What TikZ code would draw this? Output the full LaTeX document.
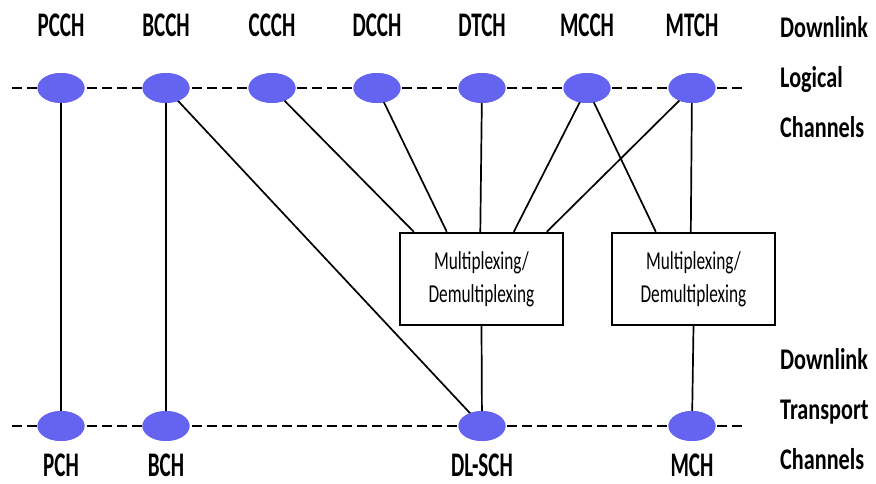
\documentclass[tikz,border=0pt]{standalone}
\usepackage{fontspec}
\setmainfont{Carlito}[FakeStretch=0.67]
\newfontfamily\chanfont{Carlito}[FakeStretch=0.61]
\newfontfamily\sidefont{Carlito}[FakeStretch=0.74]
\usetikzlibrary{shapes.geometric,calc}

\definecolor{chanblue}{RGB}{100,100,240}

\tikzset{
  chan/.style={ellipse, fill=chanblue, draw=none, minimum width=47pt, minimum height=30pt, inner sep=0pt},
  chanlabel/.style={anchor=base, font=\chanfont\fontsize{34.5}{35}\selectfont\bfseries, inner sep=0pt},
  sidelabel/.style={anchor=base west, font=\sidefont\fontsize{30}{31}\selectfont\bfseries, inner sep=0pt},
  muxbox/.style={draw, line width=2.4pt, minimum width=163pt, minimum height=92pt, inner sep=0pt,
                 align=center, font=\fontsize{25.8}{33}\selectfont},
  busline/.style={line width=2.6pt, dash pattern=on 10pt off 5pt},
  link/.style={line width=1.7pt},
}

\begin{document}
\begin{tikzpicture}[x=1pt,y=-1pt]
\useasboundingbox (0,0) rectangle (876,484);

% channel buses
\coordinate (lbusL) at (12,88);
\coordinate (lbusR) at (742,88);
\coordinate (tbusL) at (12,426);
\coordinate (tbusR) at (743,426);
\draw[busline] (lbusL) -- (lbusR);
\draw[busline] (tbusL) -- (tbusR);

% logical channels
\node[chan] (pcch) at (61,88) {};
\node[chan] (bcch) at (166,88) {};
\node[chan] (ccch) at (272,88) {};
\node[chan] (dcch) at (377,88) {};
\node[chan] (dtch) at (482,88) {};
\node[chan] (mcch) at (587,88) {};
\node[chan] (mtch) at (692,88) {};

\node[chanlabel] (pcchT) at (61,37) {PCCH};
\node[chanlabel] (bcchT) at (166,37) {BCCH};
\node[chanlabel] (ccchT) at (272,37) {CCCH};
\node[chanlabel] (dcchT) at (377,37) {DCCH};
\node[chanlabel] (dtchT) at (482,37) {DTCH};
\node[chanlabel] (mcchT) at (587,37) {MCCH};
\node[chanlabel] (mtchT) at (692,37) {MTCH};

% transport channels
\node[chan] (pch) at (61,426) {};
\node[chan] (bch) at (166,426) {};
\node[chan] (dlsch) at (482,426) {};
\node[chan] (mch) at (692,426) {};

\node[chanlabel] (pchT) at (61,476) {PCH};
\node[chanlabel] (bchT) at (166,476) {BCH};
\node[chanlabel] (dlschT) at (482,476) {DL-SCH};
\node[chanlabel] (mchT) at (692,476) {MCH};

% side captions
\node[sidelabel] (dl1) at (780,38) {Downlink};
\node[sidelabel] (lg) at (780,88) {Logical};
\node[sidelabel] (ch1) at (780,138) {Channels};
\node[sidelabel] (dl2) at (780,369) {Downlink};
\node[sidelabel] (tr) at (780,419) {Transport};
\node[sidelabel] (ch2) at (780,469) {Channels};

% multiplexing boxes
\node[muxbox] (mux1) at (481.5,279) {Multiplexing/\\Demultiplexing};
\node[muxbox] (mux2) at (693.5,279) {Multiplexing/\\Demultiplexing};

% entry points on the boxes
\coordinate (m1a) at ($(mux1.north west)+(15,0)$);
\coordinate (m1b) at ($(mux1.north west)+(48,0)$);
\coordinate (m1c) at ($(mux1.north west)+(81.5,0)$);
\coordinate (m1d) at ($(mux1.north west)+(115,0)$);
\coordinate (m1e) at ($(mux1.north west)+(148,0)$);
\coordinate (m2a) at ($(mux2.north west)+(45,0)$);
\coordinate (m2b) at ($(mux2.north west)+(80,0)$);

% direct mappings
\draw[link] (pcch.center) -- (pch.center);
\draw[link] (bcch.center) -- (bch.center);
\draw[link] (bcch.center) -- (dlsch.center);

% into the multiplexers
\draw[link] (ccch.center) -- (m1a);
\draw[link] (dcch.center) -- (m1b);
\draw[link] (dtch.center) -- (m1c);
\draw[link] (mcch.center) -- (m1d);
\draw[link] (mtch.center) -- (m1e);
\draw[link] (mcch.center) -- (m2a);
\draw[link] (mtch.center) -- (m2b);

% out of the multiplexers
\draw[link] (mux1.south) -- (dlsch.center);
\draw[link] (mux2.south) -- (mch.center);

% redraw channel ellipses above the links
\foreach \n in {pcch,bcch,ccch,dcch,dtch,mcch,mtch,pch,bch,dlsch,mch}
  \fill[chanblue] (\n.center) ellipse [x radius=23.5pt, y radius=15pt];
\end{tikzpicture}
\end{document}
